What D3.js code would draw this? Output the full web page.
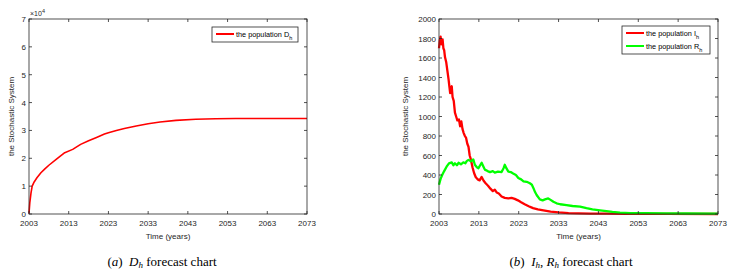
<!DOCTYPE html>
<html>
<head>
<meta charset="utf-8">
<script src="https://cdn.jsdelivr.net/npm/d3@7"></script>
<style>
  body { margin: 0; background: #fff; }
  svg { display: block; }
  .tick-label { font-family: "Liberation Sans", Arial, sans-serif; font-size: 8px; fill: #262626; }
  .axis-title { font-family: "Liberation Sans", Arial, sans-serif; font-size: 8px; fill: #262626; }
  .legend-text { font-family: "Liberation Sans", Arial, sans-serif; font-size: 7.3px; fill: #000; }
  .caption { font-family: "Liberation Serif", "Times New Roman", serif; font-size: 13px; fill: #000; }
</style>
</head>
<body>
<div id="chart"></div>
<script>
// 横轴刻度
const xTicks = [2003, 2013, 2023, 2033, 2043, 2053, 2063, 2073];
const yTicksA = [0, 1, 2, 3, 4, 5, 6, 7];
const yTicksB = [0, 200, 400, 600, 800, 1000, 1200, 1400, 1600, 1800, 2000];

// (a) D_h，单位 ×10^4
const dhYears = [2003, 2003.2, 2003.5, 2003.8, 2004.3, 2005, 2006, 2007, 2008, 2010, 2012, 2014, 2016, 2018,
  2020, 2022, 2023, 2025, 2027, 2030, 2033, 2036, 2040, 2045, 2050, 2055, 2060, 2073];
const dhValues = [0.02, 0.4, 0.75, 1.0, 1.15, 1.3, 1.48, 1.62, 1.75, 1.98, 2.2, 2.32, 2.5, 2.63,
  2.75, 2.87, 2.92, 3.0, 3.07, 3.16, 3.24, 3.3, 3.36, 3.4, 3.42, 3.43, 3.43, 3.43];

// (b) I_h
const ihYears = [2003, 2003.2, 2003.4, 2003.6, 2003.9, 2004.1, 2004.3, 2004.5, 2004.8, 2005.1, 2005.4, 2005.6,
  2005.8, 2006.0, 2006.2, 2006.4, 2006.7, 2007.0, 2007.3, 2007.6, 2008.0, 2008.3, 2008.6, 2008.9, 2009.2,
  2009.5, 2009.8, 2010.1, 2010.4, 2010.7, 2011.0, 2011.4, 2011.8, 2012.2, 2012.7, 2013.2, 2013.7, 2014.2,
  2014.7, 2015.3, 2015.9, 2016.5, 2017.0, 2017.5, 2018.0, 2018.7, 2019.5, 2020.4, 2021.2, 2022.0, 2022.8,
  2023.6, 2024.5, 2025.5, 2026.6, 2027.8, 2029.2, 2031, 2033, 2035.5, 2038, 2041, 2045, 2050, 2055, 2060, 2073];
const ihValues = [1700, 1780, 1820, 1740, 1790, 1700, 1680, 1610, 1560, 1470, 1380, 1310,
  1240, 1290, 1310, 1200, 1160, 1040, 1000, 960, 970, 900, 950, 870, 830,
  800, 780, 720, 690, 600, 560, 480, 420, 380, 355, 345, 380, 340,
  315, 290, 260, 235, 250, 220, 210, 180, 165, 160, 165, 155, 140,
  120, 100, 80, 60, 48, 38, 25, 17, 10, 7, 4, 3, 2, 1, 1, 0];

// (b) R_h
const rhYears = [2003, 2003.4, 2003.8, 2004.3, 2004.9, 2005.5, 2006.2, 2006.6, 2007.0, 2007.5, 2007.9, 2008.5,
  2009.1, 2009.6, 2010.0, 2010.4, 2011.0, 2011.6, 2012.0, 2012.5, 2012.9, 2013.4, 2013.7, 2014.1, 2014.5,
  2015.2, 2015.8, 2016.5, 2017.0, 2017.8, 2018.7, 2019.2, 2019.5, 2019.9, 2020.4, 2021.0, 2021.6, 2022.3,
  2022.9, 2023.6, 2024.2, 2025.0, 2025.8, 2026.3, 2026.7, 2027.1, 2027.5, 2028.3, 2029.0, 2029.6, 2030.4,
  2031.0, 2031.7, 2032.5, 2033.4, 2035.0, 2036.5, 2038.4, 2040.0, 2041.5, 2043.4, 2045, 2046.5, 2048.4,
  2051, 2055, 2060, 2065, 2073];
const rhValues = [300, 360, 400, 440, 485, 520, 530, 500, 520, 500, 525, 510,
  530, 520, 545, 555, 540, 560, 505, 480, 470, 505, 525, 490, 455,
  440, 430, 440, 425, 435, 430, 470, 505, 470, 435, 430, 415, 400,
  370, 355, 335, 330, 315, 300, 265, 225, 195, 150, 140, 150, 160,
  145, 125, 110, 100, 90, 82, 75, 60, 48, 38, 30, 22, 14,
  10, 8, 6, 5, 3];

const W = 742, H = 276;
const svg = d3.select('#chart').append('svg').attr('width', W).attr('height', H);

const axisColor = '#262626';

function drawPanel(opt) {
  const x = d3.scaleLinear().domain([2003, 2073]).range([opt.left, opt.right]);
  const y = d3.scaleLinear().domain(opt.yDomain).range([opt.bottom, opt.top]);
  const g = svg.append('g');

  // 曲线
  opt.series.forEach(s => {
    const pts = s.years.map((t, i) => [t, s.values[i]]);
    g.append('path')
      .datum(pts)
      .attr('fill', 'none')
      .attr('stroke', s.color)
      .attr('stroke-width', s.width)
      .attr('stroke-linejoin', 'round')
      .attr('d', d3.line().x(d => x(d[0])).y(d => y(d[1])));
  });

  // 坐标框 + 内向刻度
  const tl = 3;
  g.append('rect')
    .attr('x', opt.left).attr('y', opt.top)
    .attr('width', opt.right - opt.left).attr('height', opt.bottom - opt.top)
    .attr('fill', 'none').attr('stroke', axisColor).attr('stroke-width', 0.8);

  xTicks.forEach(t => {
    const px = x(t);
    g.append('line').attr('x1', px).attr('x2', px).attr('y1', opt.bottom).attr('y2', opt.bottom - tl)
      .attr('stroke', axisColor).attr('stroke-width', 0.8);
    g.append('line').attr('x1', px).attr('x2', px).attr('y1', opt.top).attr('y2', opt.top + tl)
      .attr('stroke', axisColor).attr('stroke-width', 0.8);
    g.append('text').attr('class', 'tick-label')
      .attr('x', px).attr('y', opt.bottom + 12)
      .attr('text-anchor', 'middle').text(t);
  });

  opt.yTicks.forEach(v => {
    const py = y(v);
    g.append('line').attr('x1', opt.left).attr('x2', opt.left + tl).attr('y1', py).attr('y2', py)
      .attr('stroke', axisColor).attr('stroke-width', 0.8);
    g.append('line').attr('x1', opt.right).attr('x2', opt.right - tl).attr('y1', py).attr('y2', py)
      .attr('stroke', axisColor).attr('stroke-width', 0.8);
    g.append('text').attr('class', 'tick-label')
      .attr('x', opt.left - 3).attr('y', py + 3)
      .attr('text-anchor', 'end').text(v);
  });

  // 轴标题
  g.append('text').attr('class', 'axis-title')
    .attr('x', (opt.left + opt.right) / 2).attr('y', opt.bottom + 25)
    .attr('text-anchor', 'middle').text('Time (years)');

  g.append('text').attr('class', 'axis-title')
    .attr('transform', `translate(${opt.yLabelX}, ${(opt.top + opt.bottom) / 2}) rotate(-90)`)
    .attr('text-anchor', 'middle').text('the Stochastic System');

  // 图例
  const lg = g.append('g').attr('transform', `translate(${opt.legend.x}, ${opt.legend.y})`);
  const rowH = 13;
  lg.append('rect')
    .attr('x', 0).attr('y', 0)
    .attr('width', opt.legend.w).attr('height', opt.series.length * rowH + 2)
    .attr('fill', '#fff').attr('stroke', axisColor).attr('stroke-width', 0.8);
  opt.series.forEach((s, i) => {
    const cy = 7 + i * rowH;
    lg.append('line').attr('x1', 4).attr('x2', 22).attr('y1', cy).attr('y2', cy)
      .attr('stroke', s.color).attr('stroke-width', 2);
    const tx = lg.append('text').attr('class', 'legend-text').attr('x', 24).attr('y', cy + 2.5);
    tx.append('tspan').text('the population ' + s.name);
    tx.append('tspan').attr('dy', 3).style('font-size', '5.5px').text('h');
  });

  // 底部说明
  const cap = g.append('text').attr('class', 'caption')
    .attr('x', opt.captionX).attr('y', 266).attr('text-anchor', 'middle');
  opt.caption(cap);

  return { x, y, g };
}

const pa = drawPanel({
  left: 29, right: 307, top: 19, bottom: 214,
  yDomain: [0, 7], yTicks: yTicksA, yLabelX: 14,
  series: [{ name: 'D', years: dhYears, values: dhValues, color: '#ff0000', width: 1.6 }],
  legend: { x: 212, y: 27, w: 86 },
  captionX: 162,
  caption: t => {
    t.append('tspan').text('(');
    t.append('tspan').style('font-style', 'italic').text('a');
    t.append('tspan').text(')\u00a0\u00a0');
    t.append('tspan').style('font-style', 'italic').text('D');
    t.append('tspan').style('font-style', 'italic').style('font-size', '9px').attr('dy', 2).text('h');
    t.append('tspan').attr('dy', -2).text(' forecast chart');
  }
});

// ×10^4
pa.g.append('text').attr('class', 'tick-label')
  .attr('x', 30).attr('y', 16).style('font-size', '7px')
  .text('\u00d710')
  .append('tspan').attr('dy', -3).style('font-size', '5.5px').text('4');

drawPanel({
  left: 439, right: 718, top: 19, bottom: 214,
  yDomain: [0, 2000], yTicks: yTicksB, yLabelX: 408,
  series: [
    { name: 'I', years: ihYears, values: ihValues, color: '#ff0000', width: 2.3 },
    { name: 'R', years: rhYears, values: rhValues, color: '#00ff00', width: 2.3 }
  ],
  legend: { x: 622, y: 26, w: 88 },
  captionX: 571,
  caption: t => {
    t.append('tspan').text('(');
    t.append('tspan').style('font-style', 'italic').text('b');
    t.append('tspan').text(')\u00a0\u00a0');
    t.append('tspan').style('font-style', 'italic').text('I');
    t.append('tspan').style('font-style', 'italic').style('font-size', '9px').attr('dy', 2).text('h');
    t.append('tspan').attr('dy', -2).text(', ');
    t.append('tspan').style('font-style', 'italic').text('R');
    t.append('tspan').style('font-style', 'italic').style('font-size', '9px').attr('dy', 2).text('h');
    t.append('tspan').attr('dy', -2).text(' forecast chart');
  }
});
</script>
</body>
</html>
